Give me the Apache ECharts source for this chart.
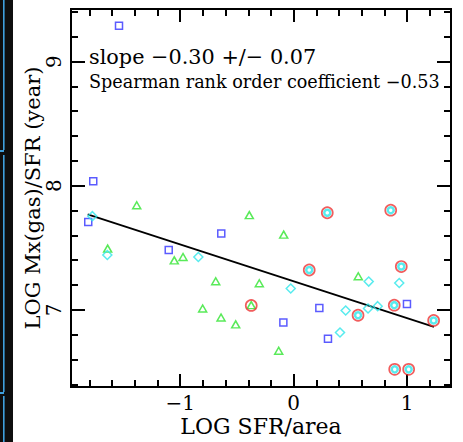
<!DOCTYPE html>
<html><head><meta charset="utf-8">
<script src="https://cdn.jsdelivr.net/npm/echarts@6/dist/echarts.min.js"></script>
<style>html,body{margin:0;padding:0;background:#fff}#c{width:463px;height:442px}</style>
</head><body><div id="c"></div>
<script>
// ---- data ----
const squareX = [-1.539, -1.766, -1.810, -1.101, -0.638, -0.091, 0.226, 0.302, 0.998];
const squareY = [9.289, 8.036, 7.707, 7.482, 7.616, 6.899, 7.016, 6.767, 7.048];

const triangleX = [-1.383, -1.639, -1.052, -0.975, -0.391, -0.088, -0.687, -0.303, -0.802, -0.640, -0.511, -0.132, -0.374, 0.569];
const triangleY = [7.843, 7.493, 7.399, 7.426, 7.763, 7.606, 7.231, 7.214, 7.011, 6.939, 6.883, 6.671, 7.038, 7.271];

const diamondX = [-1.774, -1.642, -0.840, -0.026, 0.458, 0.408, 0.655, 0.740, 0.661, 0.930];
const diamondY = [7.755, 7.442, 7.426, 7.172, 6.995, 6.818, 7.011, 7.030, 7.228, 7.217];

const cyanCircleX = [0.296, 0.855, 0.137, 0.948, 0.886, 0.567, 1.233, 0.890, 1.013];
const cyanCircleY = [7.782, 7.803, 7.321, 7.349, 7.038, 6.957, 6.915, 6.521, 6.521];

const redCircleX = [0.296, 0.855, 0.137, 0.948, 0.886, 0.567, 1.233, 0.890, 1.013, -0.374];
const redCircleY = [7.782, 7.803, 7.321, 7.349, 7.038, 6.957, 6.915, 6.521, 6.521, 7.036];

const fitX = [-1.815, 1.236];
const fitY = [7.769, 6.863];

const xTickValues = [-1, 0, 1];
const xTickLabels = ['\u22121', '0', '1'];
const yTickValues = [7, 8, 9];
const yTickLabels = ['7', '8', '9'];

const xName = 'LOG SFR/area';
const yName = 'LOG Mx(gas)/SFR (year)';
const slopeText = 'slope \u22120.30 +/\u2212 0.07';
const spearmanText = 'Spearman rank order coefficient \u22120.53';

const X_MIN = -1.962, X_MAX = 1.386;
const Y_MIN = 6.379, Y_MAX = 9.423;

// ---- helpers ----
const FONT = '"DejaVu Serif", "Liberation Serif", serif';
const pairs = (xs, ys) => xs.map((x, i) => [x, ys[i]]);
function lookup(vals, labels) {
  return function (v) {
    for (let i = 0; i < vals.length; i++) if (Math.abs(v - vals[i]) < 1e-6) return labels[i];
    return '';
  };
}
function axis(kind, pos, step, len, label) {
  const a = {
    type: 'value', position: pos,
    min: kind === 'x' ? X_MIN : Y_MIN, max: kind === 'x' ? X_MAX : Y_MAX,
    minInterval: step, maxInterval: step,
    axisLine: { show: true, onZero: false, lineStyle: { color: '#000', width: 2 } },
    axisTick: { show: true, inside: true, length: len, lineStyle: { color: '#000', width: 2 } },
    splitLine: { show: false },
    axisLabel: { show: false },
    silent: true
  };
  if (label) a.axisLabel = label;
  return a;
}

const xLabel = {
  show: true, margin: 8, color: '#000', fontFamily: FONT, fontSize: 20, lineHeight: 16,
  showMinLabel: false, showMaxLabel: false,
  formatter: lookup(xTickValues, xTickLabels)
};
const yLabel = {
  show: true, margin: 7, rotate: 90, color: '#000', fontFamily: FONT, fontSize: 20,
  showMinLabel: false, showMaxLabel: false,
  formatter: lookup(yTickValues, yTickLabels)
};

const xAxes = [
  Object.assign(axis('x', 'bottom', 1, 13, xLabel), {
    name: xName, nameLocation: 'middle', nameGap: 30, nameMoveOverlap: false,
    nameTextStyle: { color: '#000', fontFamily: FONT, fontSize: 22, lineHeight: 18 }
  }),
  axis('x', 'bottom', 0.2, 7),
  axis('x', 'top', 1, 13),
  axis('x', 'top', 0.2, 7)
];
const yAxes = [
  Object.assign(axis('y', 'left', 1, 14, yLabel), {
    name: yName, nameLocation: 'middle', nameGap: 28, nameMoveOverlap: false,
    nameTextStyle: { color: '#000', fontFamily: FONT, fontSize: 21 }
  }),
  axis('y', 'left', 0.2, 7),
  axis('y', 'right', 1, 14),
  axis('y', 'right', 0.2, 7)
];

const hollow = (c, w) => ({ color: 'rgba(0,0,0,0)', borderColor: c, borderWidth: w });

const option = {
  animation: false,
  backgroundColor: '#fff',
  grid: { left: 71, top: 9, width: 380, height: 379, containLabel: false },
  xAxis: xAxes,
  yAxis: yAxes,
  series: [
    { type: 'line', data: pairs(fitX, fitY), symbol: 'none', lineStyle: { color: '#000', width: 1.8 }, silent: true, z: 2 },
    { type: 'scatter', data: pairs(squareX, squareY), symbol: 'rect', symbolSize: 7, itemStyle: hollow('#3232ff', 1.5), z: 3 },
    { type: 'scatter', data: pairs(triangleX, triangleY), symbol: 'triangle', symbolSize: [8, 7], itemStyle: hollow('#2fe52f', 1.5), z: 3 },
    { type: 'scatter', data: pairs(diamondX, diamondY), symbol: 'diamond', symbolSize: [9, 9], itemStyle: hollow('#2ee6ea', 1.5), z: 3 },
    { type: 'scatter', data: pairs(redCircleX, redCircleY), symbol: 'circle', symbolSize: 11, itemStyle: hollow('#ee3535', 1.7), z: 3 },
    { type: 'scatter', data: pairs(cyanCircleX, cyanCircleY), symbol: 'circle', symbolSize: 6, itemStyle: hollow('#2ee6ea', 2.5), z: 4 }
  ],
  graphic: [
    { type: 'rect', left: 0, top: 0, shape: { width: 13, height: 442 }, style: { fill: '#0e0e0e' }, silent: true },
    { type: 'rect', left: 3, top: 0, shape: { width: 1.6, height: 150 }, style: { fill: '#3f9fdc' }, silent: true },
    { type: 'rect', left: 3, top: 155, shape: { width: 1.6, height: 237 }, style: { fill: '#3f9fdc' }, silent: true },
    { type: 'rect', left: 3, top: 396, shape: { width: 1.6, height: 46 }, style: { fill: '#3f9fdc' }, silent: true },
    { type: 'rect', left: 0, top: 150, shape: { width: 4, height: 2 }, style: { fill: '#3f9fdc' }, silent: true },
    { type: 'rect', left: 0, top: 392, shape: { width: 4, height: 2 }, style: { fill: '#3f9fdc' }, silent: true },
    { type: 'text', x: 89, y: 57, style: { text: slopeText, font: '20.8px ' + FONT, fill: '#000', align: 'left', verticalAlign: 'middle' }, silent: true },
    { type: 'text', x: 89, y: 82, style: { text: spearmanText, font: '17.6px ' + FONT, fill: '#000', align: 'left', verticalAlign: 'middle' }, silent: true }
  ]
};

const chart = echarts.init(document.getElementById('c'), null, { renderer: 'svg' });
chart.setOption(option);
</script>
</body></html>
